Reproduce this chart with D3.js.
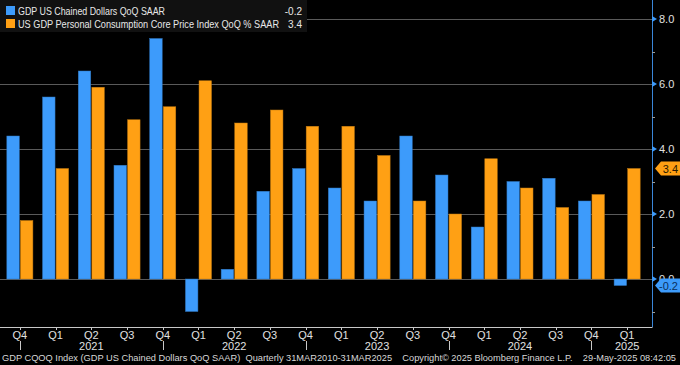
<!DOCTYPE html>
<html>
<head>
<meta charset="utf-8">
<script src="https://cdn.jsdelivr.net/npm/d3@7"></script>
<style>
  body { margin: 0; background: #000; }
  svg { display: block; }
  text { font-family: "Liberation Sans", Arial, sans-serif; }
</style>
</head>
<body>
<div class="chart"></div>
<script>
var width = 680,
  height = 365

// quarters shown, Q4 2020 .. Q1 2025
var periods = ['2020Q4','2021Q1','2021Q2','2021Q3','2021Q4','2022Q1','2022Q2','2022Q3','2022Q4',
  '2023Q1','2023Q2','2023Q3','2023Q4','2024Q1','2024Q2','2024Q3','2024Q4','2025Q1']
var quarterLabels = ['Q4','Q1','Q2','Q3','Q4','Q1','Q2','Q3','Q4','Q1','Q2','Q3','Q4','Q1','Q2','Q3','Q4','Q1']
var yearLabels = [
  {at: '2021Q2', text: '2021'},
  {at: '2022Q2', text: '2022'},
  {at: '2023Q2', text: '2023'},
  {at: '2024Q2', text: '2024'},
  {at: '2025Q1', text: '2025'}
]
var yearSeparators = ['2020Q4','2021Q4','2022Q4','2023Q4','2024Q4']

var gdp = [4.4, 5.6, 6.4, 3.5, 7.4, -1.0, 0.3, 2.7, 3.4, 2.8, 2.4, 4.4, 3.2, 1.6, 3.0, 3.1, 2.4, -0.2]
var pce = [1.8, 3.4, 5.9, 4.9, 5.3, 6.1, 4.8, 5.2, 4.7, 4.7, 3.8, 2.4, 2.0, 3.7, 2.8, 2.2, 2.6, 3.4]

var seriesNames = ['GDP US Chained Dollars QoQ SAAR', 'US GDP Personal Consumption Core Price Index QoQ % SAAR']
var seriesLast = ['-0.2', '3.4']
var colors = ['#3d9bfb', '#ffa014']

var majorTicks = [0, 2, 4, 6, 8]
var minorTicks = [-1, 1, 3, 5, 7]

var footer = 'GDP CQOQ Index (GDP US Chained Dollars QoQ SAAR)  Quarterly 31MAR2010-31MAR2025    Copyright\u00a9 2025 Bloomberg Finance L.P.    29-May-2025 08:42:05'

var axisX = 652, plotBottom = 327

var svg = d3.select('.chart')
  .append('svg')
  .attr('width', width)
  .attr('height', height)

svg.append('rect').attr('width', width).attr('height', height).attr('fill', '#000')

var yScale = d3.scaleLinear()
  .domain([0, 8])
  .range([279, 19])

var xScale = d3.scaleBand()
  .domain(periods)
  .range([2, 645])
  .paddingInner(0.27)
  .paddingOuter(0.135)

var xInner = d3.scaleBand()
  .domain([0, 1])
  .range([0, xScale.bandwidth()])
  .paddingInner(0.08)

// gridlines
svg.append('g').selectAll('line')
  .data(majorTicks)
  .enter()
  .append('line')
  .attr('x1', 0)
  .attr('x2', axisX)
  .attr('y1', function(d) { return Math.round(yScale(d)) + 0.5 })
  .attr('y2', function(d) { return Math.round(yScale(d)) + 0.5 })
  .attr('stroke', '#5a5a5a')
  .attr('stroke-width', 1)

// bars
var rows = periods.map(function(p, i) { return {p: p, vals: [gdp[i], pce[i]]} })

var groups = svg.append('g').selectAll('g')
  .data(rows)
  .enter()
  .append('g')
  .attr('transform', function(d) { return 'translate(' + xScale(d.p) + ',0)' })

groups.selectAll('rect')
  .data(function(d) { return d.vals.map(function(v, k) { return {k: k, v: v} }) })
  .enter()
  .append('rect')
  .attr('x', function(d) { return xInner(d.k) })
  .attr('width', xInner.bandwidth())
  .attr('y', function(d) { return yScale(Math.max(0, d.v)) })
  .attr('height', function(d) { return Math.abs(yScale(d.v) - yScale(0)) })
  .attr('fill', function(d) { return colors[d.k] })
  .attr('stroke', function(d) { return d3.color(colors[d.k]).darker(0.8) })
  .attr('stroke-width', 0.5)

// bottom axis line
svg.append('line')
  .attr('x1', 0).attr('x2', axisX + 0.5)
  .attr('y1', plotBottom + 0.5).attr('y2', plotBottom + 0.5)
  .attr('stroke', '#c8c8c8')

// right axis
svg.append('line')
  .attr('x1', axisX + 0.5).attr('x2', axisX + 0.5)
  .attr('y1', 0).attr('y2', plotBottom)
  .attr('stroke', '#3a86d8')

svg.append('g').selectAll('line')
  .data(minorTicks)
  .enter()
  .append('line')
  .attr('x1', axisX).attr('x2', axisX + 3)
  .attr('y1', function(d) { return Math.round(yScale(d)) + 0.5 })
  .attr('y2', function(d) { return Math.round(yScale(d)) + 0.5 })
  .attr('stroke', '#9a9a9a')

svg.append('g').selectAll('path')
  .data(majorTicks)
  .enter()
  .append('path')
  .attr('d', function(d) {
    var y = yScale(d)
    return 'M' + axisX + ',' + (y - 3) + 'L' + (axisX + 5) + ',' + y + 'L' + axisX + ',' + (y + 3) + 'Z'
  })
  .attr('fill', '#3d9bfb')

svg.append('g').selectAll('text')
  .data(majorTicks)
  .enter()
  .append('text')
  .attr('x', 659)
  .attr('y', function(d) { return yScale(d) + 4 })
  .attr('fill', '#e0e0e0')
  .attr('font-size', 11)
  .text(function(d) { return d.toFixed(1) })

// last value tags
var tags = [{v: gdp[gdp.length - 1], k: 0}, {v: pce[pce.length - 1], k: 1}]
svg.append('g').selectAll('path')
  .data(tags)
  .enter()
  .append('path')
  .attr('d', function(d) {
    var y = yScale(d.v)
    return 'M655,' + y + 'L661,' + (y - 7) + 'L680,' + (y - 7) + 'L680,' + (y + 7) + 'L661,' + (y + 7) + 'Z'
  })
  .attr('fill', function(d) { return colors[d.k] })

svg.append('g').selectAll('text')
  .data(tags)
  .enter()
  .append('text')
  .attr('x', 678)
  .attr('y', function(d) { return yScale(d.v) + 4 })
  .attr('text-anchor', 'end')
  .attr('fill', function(d) { return d.k == 0 ? '#0b2f5c' : '#2a1a00' })
  .attr('font-size', 11)
  .text(function(d) { return d.v.toFixed(1) })

// x axis
svg.append('g').selectAll('line')
  .data(periods)
  .enter()
  .append('line')
  .attr('x1', function(d) { return Math.round(xScale(d) + xScale.bandwidth() / 2) + 0.5 })
  .attr('x2', function(d) { return Math.round(xScale(d) + xScale.bandwidth() / 2) + 0.5 })
  .attr('y1', plotBottom)
  .attr('y2', plotBottom + 3)
  .attr('stroke', '#c8c8c8')

svg.append('g').selectAll('text')
  .data(periods)
  .enter()
  .append('text')
  .attr('x', function(d) { return xScale(d) + xScale.bandwidth() / 2 })
  .attr('y', 339)
  .attr('text-anchor', 'middle')
  .attr('fill', '#e0e0e0')
  .attr('font-size', 11)
  .text(function(d, i) { return quarterLabels[i] })

svg.append('g').selectAll('line')
  .data(yearSeparators)
  .enter()
  .append('line')
  .attr('x1', function(d) { return Math.round(xScale(d) + xScale.bandwidth() / 2) + 0.5 })
  .attr('x2', function(d) { return Math.round(xScale(d) + xScale.bandwidth() / 2) + 0.5 })
  .attr('y1', 341)
  .attr('y2', 350)
  .attr('stroke', '#c8c8c8')

svg.append('g').selectAll('text')
  .data(yearLabels)
  .enter()
  .append('text')
  .attr('x', function(d) { return xScale(d.at) + xScale.bandwidth() / 2 })
  .attr('y', 350)
  .attr('text-anchor', 'middle')
  .attr('fill', '#e0e0e0')
  .attr('font-size', 11)
  .text(function(d) { return d.text })

// footer: shrink the font until it fits the width
var foot = svg.append('text')
  .attr('x', 2)
  .attr('y', 361)
  .attr('fill', '#d8d8d8')
  .attr('font-size', 10)
  .style('white-space', 'pre')
  .text(footer)
var footW = foot.node().getComputedTextLength()
if (footW > 674) foot.attr('font-size', 10 * 674 / footW)
foot.attr('textLength', 674).attr('lengthAdjust', 'spacingAndGlyphs')

// legend
svg.append('rect')
  .attr('x', 0).attr('y', 0)
  .attr('width', 307).attr('height', 32)
  .attr('fill', '#111')

var legend = svg.append('g').selectAll('g')
  .data(seriesNames)
  .enter()
  .append('g')
  .attr('transform', function(d, i) { return 'translate(0,' + (i * 13) + ')' })

legend.append('rect')
  .attr('x', 6).attr('y', 6)
  .attr('width', 9).attr('height', 9)
  .attr('fill', function(d, i) { return colors[i] })

legend.append('text')
  .attr('x', 18).attr('y', 15)
  .attr('fill', '#e8e8e8')
  .attr('font-size', 10.5)
  .attr('textLength', function(d, i) { return i == 0 ? 147 : 261 })
  .attr('lengthAdjust', 'spacingAndGlyphs')
  .text(function(d) { return d })

legend.append('text')
  .attr('x', 302).attr('y', 15)
  .attr('text-anchor', 'end')
  .attr('fill', '#e8e8e8')
  .attr('font-size', 10)
  .text(function(d, i) { return seriesLast[i] })
</script>
</body>
</html>
